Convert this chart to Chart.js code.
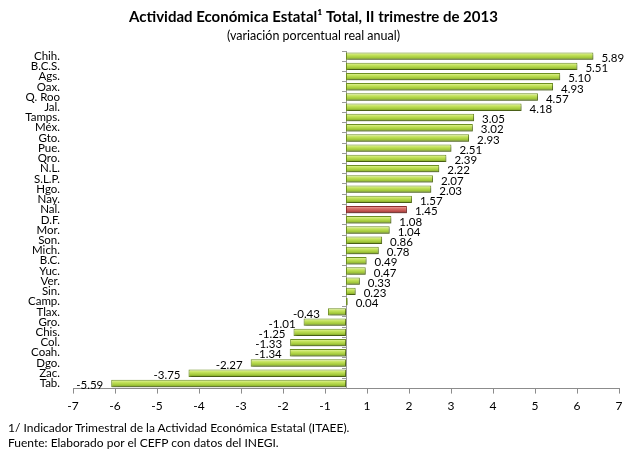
<!DOCTYPE html>
<html lang="es">
<head>
  <meta charset="UTF-8">
  <title>Actividad Económica Estatal, II trimestre de 2013</title>
  <script src="https://cdn.jsdelivr.net/npm/chart.js"></script>
  <style>
    html, body { margin: 0; padding: 0; background: #fff; }
    #wrap { position: relative; width: 631px; height: 453px; font-family: Lato, sans-serif; }
    .note { position: absolute; left: 8px; font-size: 12px; line-height: 14px; color: #000; white-space: nowrap; }
  </style>
</head>
<body>
  <div id="wrap">
    <canvas id="chart" width="631" height="453"></canvas>
    <div class="note" style="top:421px">1/ Indicador Trimestral de la Actividad Económica Estatal (ITAEE).</div>
    <div class="note" style="top:436px">Fuente: Elaborado por el CEFP con datos del INEGI.</div>
  </div>

  <script>
    const states = ['Chih.', 'B.C.S.', 'Ags.', 'Oax.', 'Q. Roo', 'Jal.', 'Tamps.', 'Méx.', 'Gto.', 'Pue.', 'Qro.',
      'N.L.', 'S.L.P.', 'Hgo.', 'Nay.', 'Nal.', 'D.F.', 'Mor.', 'Son.', 'Mich.', 'B.C.', 'Yuc.', 'Ver.', 'Sin.',
      'Camp.', 'Tlax.', 'Gro.', 'Chis.', 'Col.', 'Coah.', 'Dgo.', 'Zac.', 'Tab.'];
    const growth = [5.89, 5.51, 5.10, 4.93, 4.57, 4.18, 3.05, 3.02, 2.93, 2.51, 2.39,
      2.22, 2.07, 2.03, 1.57, 1.45, 1.08, 1.04, 0.86, 0.78, 0.49, 0.47, 0.33, 0.23,
      0.04, -0.43, -1.01, -1.25, -1.33, -1.34, -2.27, -3.75, -5.59];
    const national = 'Nal.';
    // the original axis has no 0 label: ticks sit half way between whole numbers
    const xTickLabels = [-7, -6, -5, -4, -3, -2, -1, 1, 2, 3, 4, 5, 6, 7];

    const greenStops = ['#e8f6ad', '#c4e35c', '#a3c93b', '#6f9222'];
    const redStops = ['#f3b9b7', '#da736f', '#c0504d', '#8c2e2c'];

    function barFill(ctx) {
      const stops = states[ctx.dataIndex] === national ? redStops : greenStops;
      const y = ctx.chart.scales.y;
      if (!y || ctx.type !== 'data') return stops[2];
      const cy = y.getPixelForValue(ctx.dataIndex);
      const row = Math.abs(y.getPixelForValue(1) - y.getPixelForValue(0));
      if (!isFinite(cy) || !isFinite(row) || row === 0) return stops[2];
      const g = ctx.chart.ctx.createLinearGradient(0, cy - row * 0.36, 0, cy + row * 0.36);
      g.addColorStop(0, stops[0]);
      g.addColorStop(0.35, stops[1]);
      g.addColorStop(0.7, stops[2]);
      g.addColorStop(1, stops[3]);
      return g;
    }

    // soft drop shadow to hint at the 3-D bars of the original
    const barShadow = {
      id: 'barShadow',
      beforeDatasetsDraw(chart) {
        const c = chart.ctx;
        c.save();
        c.shadowColor = 'rgba(0,0,0,0.35)';
        c.shadowOffsetX = 1;
        c.shadowOffsetY = 2;
        c.shadowBlur = 2;
      },
      afterDatasetsDraw(chart) {
        chart.ctx.restore();
      }
    };

    const valueLabels = {
      id: 'valueLabels',
      afterDatasetsDraw(chart) {
        const c = chart.ctx;
        const meta = chart.getDatasetMeta(0);
        c.save();
        c.font = '11.5px Lato';
        c.fillStyle = '#000';
        c.textBaseline = 'middle';
        meta.data.forEach((bar, i) => {
          const v = growth[i];
          const pos = v >= 0;
          c.textAlign = pos ? 'left' : 'right';
          c.fillText(v.toFixed(2), bar.x + (pos ? 8 : -8), bar.y + 2);
        });
        c.restore();
      }
    };

    new Chart(document.getElementById('chart'), {
      type: 'bar',
      data: {
        labels: states,
        datasets: [{
          data: growth,
          backgroundColor: barFill,
          borderColor: ctx => states[ctx.dataIndex] === national ? '#8c2e2c' : '#6e8f22',
          borderWidth: 1,
          borderSkipped: false,
          barPercentage: 0.72,
          categoryPercentage: 1,
          yAxisID: 'y'
        }]
      },
      options: {
        indexAxis: 'y',
        responsive: false,
        animation: false,
        layout: { padding: { left: 8, right: 12, top: 0, bottom: 35 } },
        plugins: {
          legend: { display: false },
          tooltip: { enabled: false },
          title: {
            display: true,
            text: 'Actividad Económica Estatal¹ Total, II trimestre de 2013',
            color: '#000',
            font: { family: 'Lato', size: 15, weight: 'bold' },
            padding: { top: 8, bottom: 2 }
          },
          subtitle: {
            display: true,
            text: '(variación porcentual real anual)',
            color: '#000',
            font: { family: 'Lato', size: 12.5 },
            padding: { top: 0, bottom: 8 }
          }
        },
        scales: {
          x: {
            min: -6.5,
            max: 6.5,
            afterBuildTicks: scale => {
              scale.ticks = xTickLabels.map(t => ({ value: t - Math.sign(t) * 0.5 }));
            },
            ticks: {
              color: '#000',
              font: { family: 'Lato', size: 12 },
              padding: 5,
              maxRotation: 0,
              callback: (v, i) => String(xTickLabels[i])
            },
            grid: { drawOnChartArea: false, drawTicks: true, tickLength: 5, color: '#8c8c8c' },
            border: { color: '#8c8c8c' }
          },
          y: {
            type: 'category',
            position: 'left',
            afterFit: scale => { scale.width = 65; },
            ticks: {
              color: '#000',
              font: { family: 'Lato', size: 11.5 },
              padding: 13,
              autoSkip: false
            },
            grid: { display: false, drawTicks: false },
            border: { display: false }
          },
          zeroLine: {
            type: 'category',
            axis: 'y',
            labels: states,
            position: { x: 0 },
            offset: true,
            ticks: { display: false },
            grid: { offset: true, drawOnChartArea: false, drawTicks: true, tickLength: 4, color: '#9a9a9a' },
            border: { color: '#9a9a9a' }
          }
        }
      },
      plugins: [barShadow, valueLabels]
    });
  </script>
</body>
</html>
